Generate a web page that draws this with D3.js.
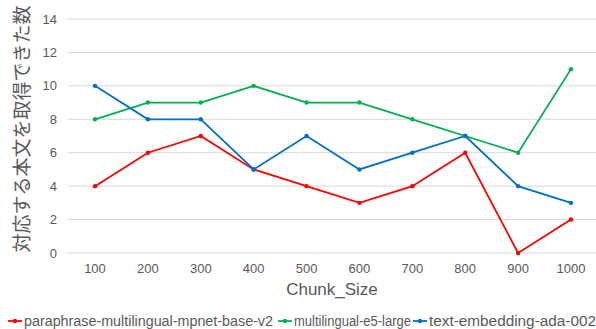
<!DOCTYPE html>
<html><head><meta charset="utf-8">
<script src="https://cdn.jsdelivr.net/npm/d3@7"></script>
<style>body{margin:0;background:#fff}svg{display:block}</style>
</head><body>
<svg id="c" width="596" height="329"></svg>
<script>
const categories = ["100","200","300","400","500","600","700","800","900","1000"];
const seriesNames = ["paraphrase-multilingual-mpnet-base-v2","multilingual-e5-large","text-embedding-ada-002"];
const redValues = [4,6,7,5,4,3,4,6,0,2];
const greenValues = [8,9,9,10,9,9,8,7,6,11];
const blueValues = [10,8,8,5,7,5,6,7,4,3];
const yTicks = [0,2,4,6,8,10,12,14];
const colors = ["#FF0000","#00B050","#0070C0"];
const xTitle = "Chunk_Size";
const yTitle = "対応する本文を取得できた数";

const series = [redValues, greenValues, blueValues];
const svg = d3.select("#c");
const font = "'Liberation Sans', Arial, sans-serif";
const x = d3.scalePoint().domain(categories).range([95,571]);
const y = d3.scaleLinear().domain([0,14]).range([253,19]);

// gridlines
svg.append("g").selectAll("line").data(yTicks).join("line")
  .attr("x1",68).attr("x2",597).attr("y1",d=>y(d)).attr("y2",d=>y(d))
  .attr("stroke","#d9d9d9").attr("stroke-width",1);

// y tick labels
svg.append("g").selectAll("text").data(yTicks).join("text")
  .attr("x",57).attr("y",d=>y(d)).attr("dy","0.35em").attr("text-anchor","end")
  .attr("font-family",font).attr("font-size",13).attr("fill","#595959").text(d=>d);

// x tick labels
svg.append("g").selectAll("text").data(categories).join("text")
  .attr("x",d=>x(d)).attr("y",273).attr("text-anchor","middle")
  .attr("font-family",font).attr("font-size",13).attr("fill","#595959").text(d=>d);

// titles
svg.append("text").attr("x",332).attr("y",295).attr("text-anchor","middle")
  .attr("font-family",font).attr("font-size",17).attr("fill","#595959").text(xTitle);
svg.append("text").attr("transform","translate(29,129) rotate(-90)").attr("text-anchor","middle")
  .attr("font-family","'Noto Sans CJK JP', sans-serif").attr("font-size",19).attr("fill","#595959").text(yTitle);

// lines
const line = d3.line().x((d,i)=>x(categories[i])).y(d=>y(d));
series.forEach((vals,k)=>{
  svg.append("path").datum(vals).attr("d",line).attr("fill","none")
    .attr("stroke",colors[k]).attr("stroke-width",1.8);
  svg.append("g").selectAll("circle").data(vals).join("circle")
    .attr("cx",(d,i)=>x(categories[i])).attr("cy",d=>y(d)).attr("r",2.2).attr("fill",colors[k]);
});

// legend
const legendX = [8,278,413];
const legendW = [249,117,167];
seriesNames.forEach((n,k)=>{
  const g = svg.append("g").attr("transform",`translate(${legendX[k]},321)`);
  g.append("line").attr("x1",0).attr("x2",14).attr("y1",0).attr("y2",0).attr("stroke",colors[k]).attr("stroke-width",1.8);
  g.append("circle").attr("cx",7).attr("cy",0).attr("r",2.2).attr("fill",colors[k]);
  g.append("text").attr("x",16).attr("y",0).attr("dy","0.35em").attr("font-family",font)
    .attr("font-size",14).attr("fill","#595959")
    .attr("textLength",legendW[k]).attr("lengthAdjust","spacingAndGlyphs").text(n);
});
</script>
</body></html>
